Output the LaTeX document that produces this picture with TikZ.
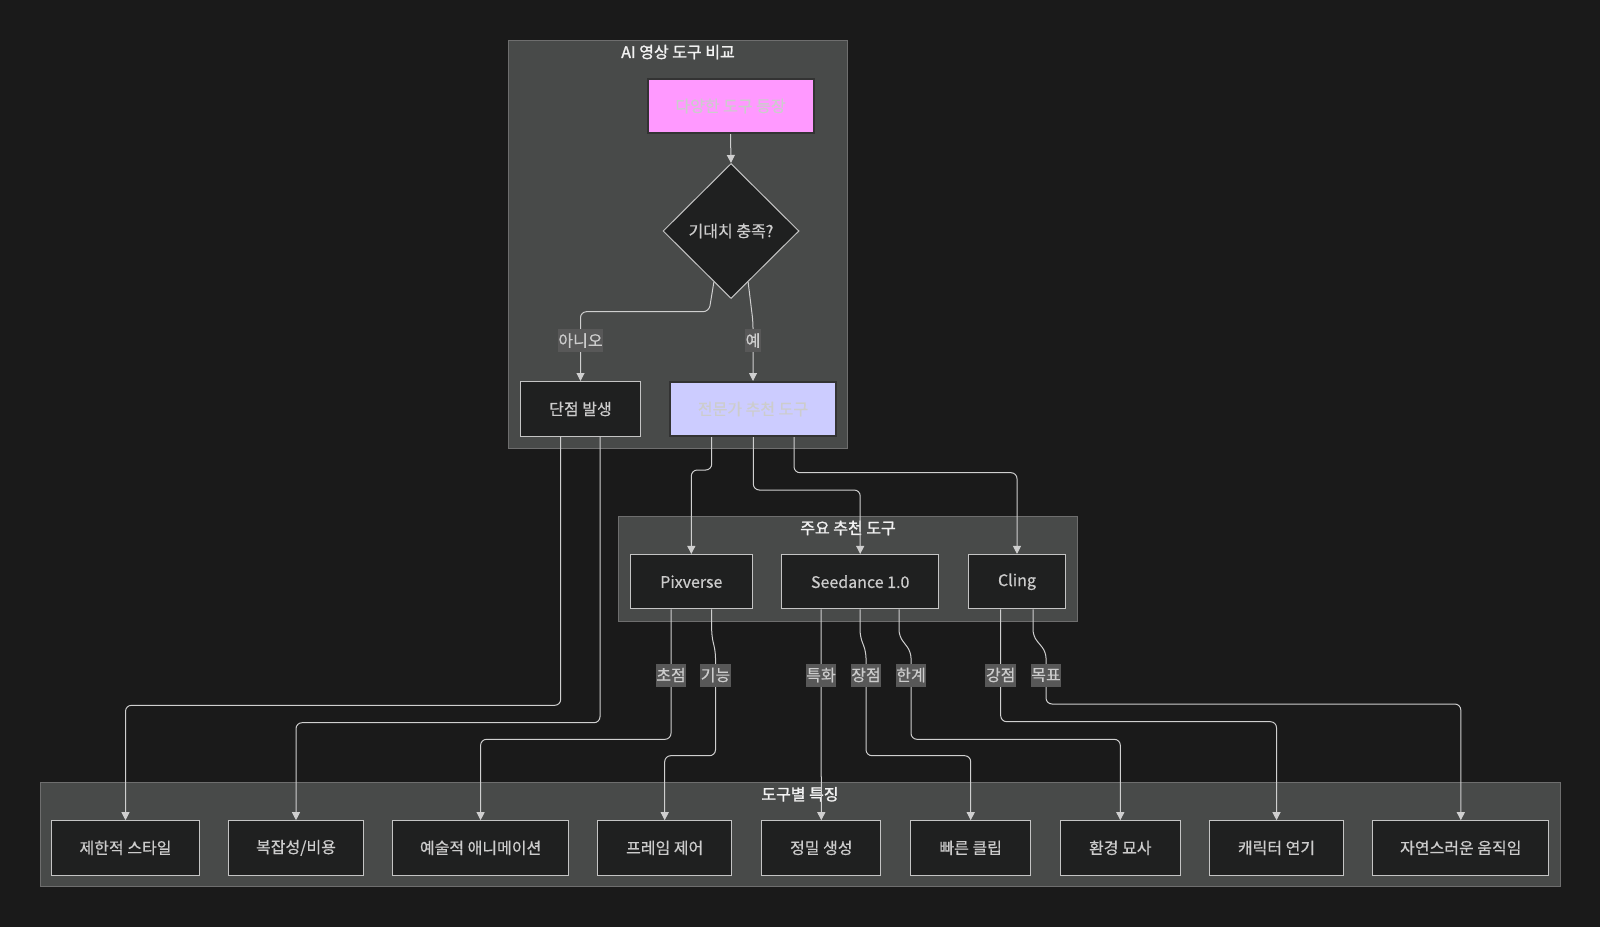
\documentclass[tikz,border=0pt]{standalone}
\usepackage{fontspec}
\setmainfont{Noto Sans CJK KR}[FakeBold=0.5]
\newfontfamily\ttlfont{Noto Sans CJK KR}[FakeBold=1.4]
\usetikzlibrary{shapes.geometric,arrows.meta,calc}
\definecolor{bgc}{HTML}{1A1A1A}
\definecolor{clfill}{HTML}{484A49}
\definecolor{cldraw}{HTML}{6E6E6E}
\definecolor{nfill}{HTML}{1F2020}
\definecolor{ndraw}{HTML}{C4C4C4}
\definecolor{ntext}{HTML}{CCCCCC}
\definecolor{pinkc}{HTML}{FF99FF}
\definecolor{lavc}{HTML}{CCCCFF}
\definecolor{dk}{HTML}{333333}
\definecolor{edgec}{HTML}{CFCFCF}
\definecolor{lblbg}{HTML}{585858}
\definecolor{titlec}{HTML}{F2F2F2}
\tikzset{
  x=1pt, y=-1pt,
  box/.style={draw=ndraw, fill=nfill, line width=1pt, text=ntext, inner sep=0pt,
    font=\fontsize{16}{19}\selectfont, minimum height=54.3pt},
  hilite/.style={box, draw=dk, line width=2pt},
  dia/.style={diamond, draw=ndraw, fill=nfill, line width=1pt, text=ntext, inner sep=0pt,
    font=\fontsize{16}{19}\selectfont, minimum width=136pt, minimum height=135pt},
  cluster/.style={draw=cldraw, fill=clfill, line width=0.8pt},
  cltitle/.style={text=titlec, font=\ttlfont\fontsize{16}{19}\selectfont, inner sep=0pt},
  edge/.style={draw=edgec, line width=1pt, rounded corners=6pt, -{Triangle[length=8pt,width=8pt]}},
  elabel/.style={fill=lblbg, text=ntext, font=\fontsize{16}{19}\selectfont, inner xsep=0.5pt, inner ysep=0pt, minimum height=23pt},
}
\begin{document}
\begin{tikzpicture}
\useasboundingbox (0,0) rectangle (1600,927);
\fill[bgc] (0,0) rectangle (1600,927);

% clusters
\draw[cluster] (508,40) rectangle (847,448);
\node[cltitle] (t1) at (678,52) {AI 영상 도구 비교};
\draw[cluster] (618.3,516.7) rectangle (1077.7,621);
\node[cltitle] (t2) at (848,528) {주요 추천 도구};
\draw[cluster] (40,782.3) rectangle (1560.3,886.7);
\node[cltitle] (t3) at (800,794.3) {도구별 특징};

% top cluster nodes
\node[hilite, fill=pinkc, minimum width=166pt, minimum height=54pt] (n1) at (730.5,106) {다양한 도구 등장};
\node[dia] (d) at (731,231) {기대치 충족?};
\node[box, minimum width=120pt, minimum height=55pt] (dan) at (580.5,409) {단점 발생};
\node[hilite, fill=lavc, minimum width=166pt, minimum height=54pt] (exp) at (753,409) {전문가 추천 도구};

% middle cluster nodes
\node[box, minimum width=122pt, minimum height=54.5pt] (pix) at (691.3,581.7) {Pixverse};
\node[box, minimum width=157pt, minimum height=54.5pt] (see) at (860.2,581.7) {Seedance 1.0};
\node[box, minimum width=97.4pt, minimum height=54.5pt] (cl) at (1017,581.7) {Cling};

% bottom cluster nodes
\node[box, minimum width=147.6pt] (b1) at (125.5,847.85) {제한적 스타일};
\node[box, minimum width=134.6pt] (b2) at (296,847.85) {복잡성/비용};
\node[box, minimum width=175.4pt] (b3) at (480.6,847.85) {예술적 애니메이션};
\node[box, minimum width=134pt] (b4) at (664.7,847.85) {프레임 제어};
\node[box, minimum width=119.3pt] (b5) at (821.3,847.85) {정밀 생성};
\node[box, minimum width=120pt] (b6) at (970.7,847.85) {빠른 클립};
\node[box, minimum width=120pt] (b7) at (1120.3,847.85) {환경 묘사};
\node[box, minimum width=134.4pt] (b8) at (1276.5,847.85) {캐릭터 연기};
\node[box, minimum width=175.7pt] (b9) at (1460.8,847.85) {자연스러운 움직임};

% edges top
\draw[edge] (n1.south) -- (d.north);
\coordinate (dl) at ($(d.south)!0.25!(d.west)$);
\coordinate (dr) at ($(d.south)!0.25!(d.east)$);
\draw[edge] (dl) -- (709,311.7) -- (580.5,311.7) -- (dan.north);
\draw[edge] (dr) -- (753,322) -- (exp.north);

% expert -> tools
\draw[edge] ([xshift=-41.3pt]exp.south) -- (711.7,470) -- (691.3,470) -- (pix.north);
\draw[edge] ([xshift=0.3pt]exp.south) -- (753.3,490) -- (860.2,490) -- (see.north);
\draw[edge] ([xshift=41pt]exp.south) -- (794,472.7) -- (1017,472.7) -- (cl.north);

% dan -> bottom
\draw[edge] ([xshift=-19.8pt]dan.south) -- (560.7,705.3) -- (125.5,705.3) -- (b1.north);
\draw[edge] ([xshift=19.5pt]dan.south) -- (600,722.7) -- (296,722.7) -- (b2.north);

% pixverse -> bottom
\draw[edge] ([xshift=-20.3pt]pix.south) -- (671,739.3) -- (480.6,739.3) -- (b3.north);
\draw[edge] ([xshift=20.4pt]pix.south) -- (711.7,636) -- (715.5,652) -- (715.5,755.7) -- (664.7,755.7) -- (b4.north);

% seedance -> bottom
\draw[edge] ([xshift=-39.2pt]see.south) -- (b5.north);
\draw[edge] ([xshift=-0.2pt]see.south) -- (860,636) -- (866,652) -- (866,755.7) -- (970.7,755.7) -- (b6.north);
\draw[edge] ([xshift=38.8pt]see.south) -- (899,636) -- (911,652) -- (911,739.3) -- (1120.3,739.3) -- (b7.north);

% cling -> bottom
\draw[edge] ([xshift=-16.3pt]cl.south) -- (1000.7,721.7) -- (1276.5,721.7) -- (b8.north);
\draw[edge] ([xshift=16pt]cl.south) -- (1033,636) -- (1046,652) -- (1046,704) -- (1460.8,704) -- (b9.north);

% edge labels
\node[elabel] (l1) at (580.5,340.5) {아니오};
\node[elabel] (l2) at (753,340.5) {예};
\node[elabel] (l3) at (671,675) {초점};
\node[elabel] (l4) at (715.5,675) {기능};
\node[elabel] (l5) at (821,675) {특화};
\node[elabel] (l6) at (866,675) {장점};
\node[elabel] (l7) at (911,675) {한계};
\node[elabel] (l8) at (1000.7,675) {강점};
\node[elabel] (l9) at (1046,675) {목표};
\end{tikzpicture}
\end{document}
